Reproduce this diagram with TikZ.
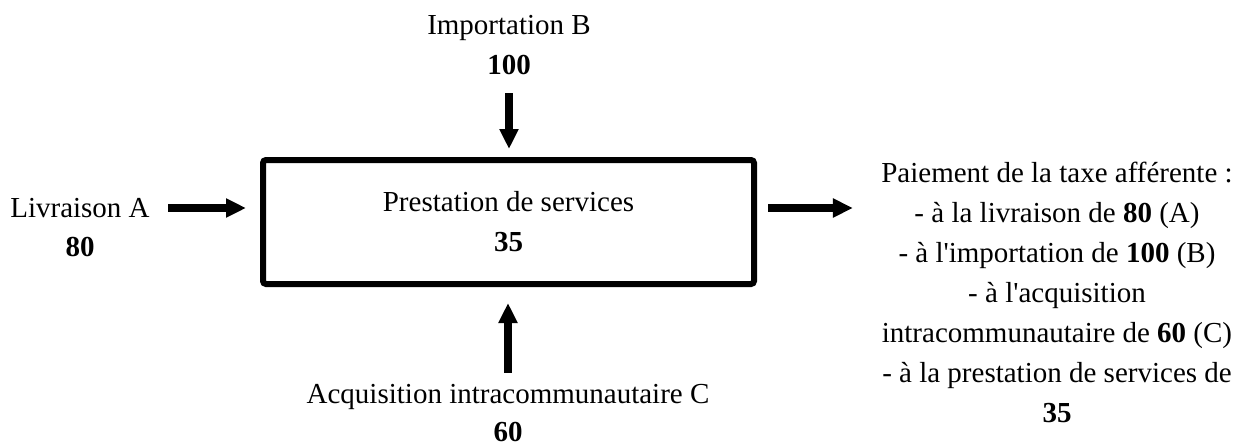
\documentclass[tikz,border=0pt]{standalone}
\usepackage{fontspec}
\setmainfont{Liberation Serif}
\usetikzlibrary{arrows.meta}

\begin{document}
\begin{tikzpicture}[x=0.5pt,y=-0.5pt, font=\fontsize{14.5}{20}\selectfont,
    txt/.style={inner sep=0pt,align=center},
    flow/.style={line width=3.75pt,-{Triangle[length=10pt,width=9pt]}},
    op/.style={draw,line width=3pt,rounded corners=1.5pt,inner sep=0pt,align=center,minimum width=245.5pt,minimum height=62pt}]
    \useasboundingbox (0,0) rectangle (1249,445);

    \node[op] (box) at (508.5,222) {Prestation de services\\ \textbf{35}};

    \node[txt] (impB) at (509,28) {Importation B};
    \node[txt] (impBv) at (509,65) {\textbf{100}};
    \node[txt] (livA) at (80,208) {Livraison A};
    \node[txt] (livAv) at (80,247) {\textbf{80}};
    \node[txt] (acqC) at (508,397) {Acquisition intracommunautaire C};
    \node[txt] (acqCv) at (508,432) {\textbf{60}};
    \node[txt] (pay) at (1057,292) {Paiement de la taxe afférente :\\
      - à la livraison de \textbf{80} (A)\\
      - à l\textquotesingle importation de \textbf{100} (B)\\
      - à l\textquotesingle acquisition\\
      intracommunautaire de \textbf{60} (C)\\
      - à la prestation de services de\\
      \textbf{35}};

    \draw[flow,shorten <=9pt,shorten >=7pt] (livA) -- (livA -| box.west);
    \draw[flow,shorten <=5.5pt,shorten >=14pt] (box.east |- livA) -- (pay.west |- livA);
    \draw[flow,shorten <=9pt,shorten >=4pt] (impBv) -- (impBv |- box.north);
    \draw[flow,shorten <=5.5pt,shorten >=8pt] (acqC) -- (acqC |- box.south);
\end{tikzpicture}
\end{document}
